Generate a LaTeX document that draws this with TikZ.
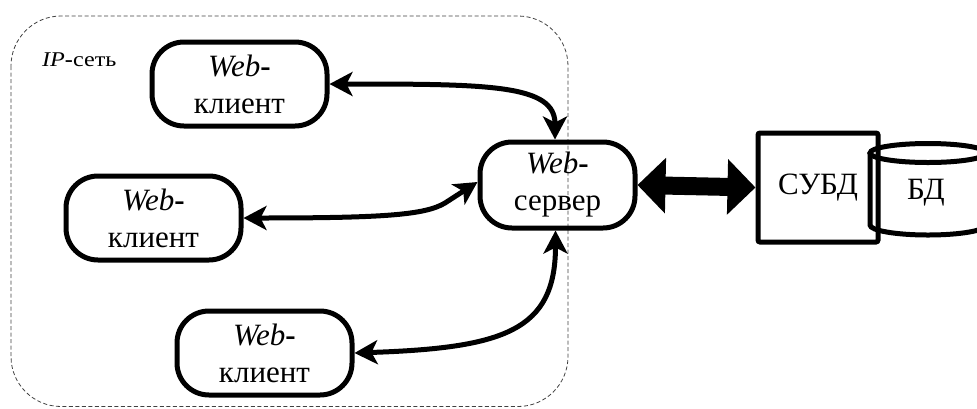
\documentclass[tikz,border=0pt]{standalone}
\usepackage{fontspec}
\setmainfont{Liberation Serif}
\newfontfamily\ipfont{Liberation Serif}[FakeStretch=1.15]
\usetikzlibrary{arrows.meta}
\begin{document}
\begin{tikzpicture}[x=1pt,y=-1pt,
  pill/.style={draw,line width=5pt,rounded corners=32pt,minimum width=175pt,minimum height=84pt,align=center,inner sep=0pt,font=\fontsize{31}{37}\selectfont},
  link/.style={line width=5pt,{Stealth[length=23pt,width=24pt,inset=6pt]}-{Stealth[length=23pt,width=24pt,inset=6pt]}},
  bigtxt/.style={font=\fontsize{31}{37}\selectfont}
]
\useasboundingbox (0,0) rectangle (977,408);
\clip (0,0) rectangle (977,408);
% network area
\draw[line width=0.8pt,dash pattern=on 4pt off 2.5pt,rounded corners=50pt,black!75] (11,16) rectangle (568,406.5);
\node[font=\ipfont\fontsize{21}{24}\selectfont,anchor=base west,inner sep=0pt] (ip) at (42,66) {\textit{IP}\textbf{-}сеть};
% nodes
\node[pill] (c1) at (239.5,84) {\textit{Web}\textbf{-}\\клиент};
\node[pill] (c2) at (153.5,218) {\textit{Web}\textbf{-}\\клиент};
\node[pill] (c3) at (264.5,353) {\textit{Web}\textbf{-}\\клиент};
\node[pill,minimum width=155pt,minimum height=86pt] (srv) at (557.5,185) {\textit{Web}\textbf{-}\\сервер};
\node[draw,line width=5pt,rounded corners=2pt,minimum width=120pt,minimum height=109pt,inner sep=0pt,bigtxt] (dbms) at (818,187.5) {СУБД};
% database cylinder
\draw[line width=5pt] (928,153) ellipse [x radius=58pt,y radius=9.5pt];
\draw[line width=5pt] (870,153) -- (870,225) arc[start angle=180,end angle=360,x radius=58pt,y radius=10pt] -- (986,153);
\node[bigtxt] (db) at (926,193) {БД};
% connectors
\draw[link] (c1.east) .. controls +(160,0) and +(0,-55) .. ([xshift=-2.5pt]srv.north);
\draw[link] (c2.east) .. controls +(140,0) and (425,215) .. (445,203) -- ([yshift=3pt]srv.west);
\draw[link] (c3.east) .. controls +(150,-5) and +(0,100) .. ([xshift=-2pt]srv.south);
\draw[line width=18pt,{Triangle[length=28pt,width=54pt]}-{Triangle[length=28pt,width=54pt]}] (srv.east) -- (dbms.west);
\end{tikzpicture}
\end{document}
